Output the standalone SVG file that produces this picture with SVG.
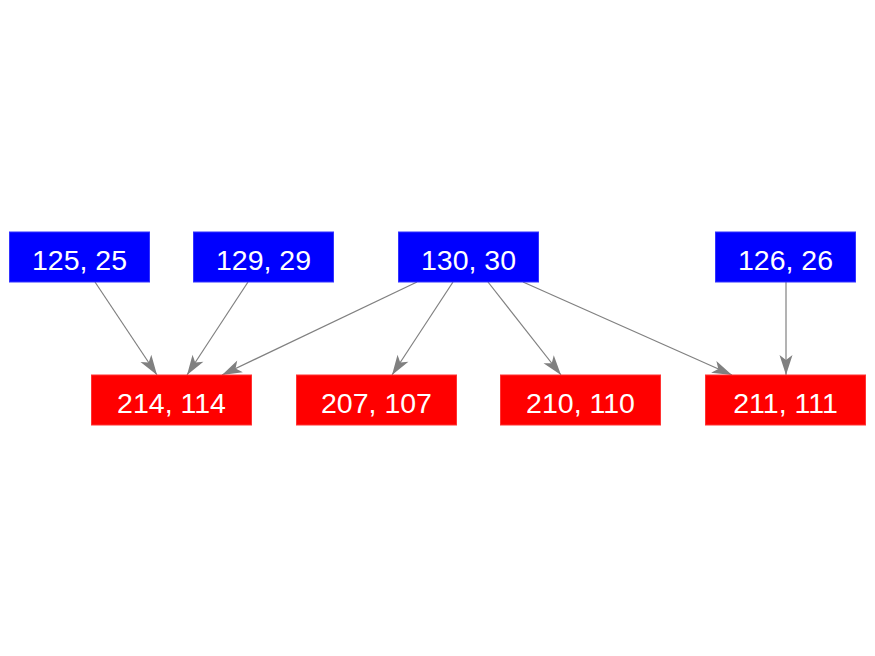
<svg xmlns="http://www.w3.org/2000/svg" width="875" height="656" viewBox="0 0 875 656">
<style>
.src rect{fill:#0000ff;stroke:#3333ff;stroke-width:1}
.dst rect{fill:#ff0000;stroke:#ff3333;stroke-width:1}
text{font-family:"Liberation Sans",Arial,sans-serif;font-size:28.5px;fill:#ffffff;text-anchor:middle}
.edges line{stroke:#808080;stroke-width:1.2;marker-end:url(#arr)}
</style>
<defs>
<marker id="arr" markerUnits="userSpaceOnUse" markerWidth="22" markerHeight="16" viewBox="-21 -8 22 16" refX="0" refY="0" orient="auto">
<path d="M0,0 L-20,-6.5 L-15,0 L-20,6.5 Z" fill="#808080"/>
</marker>
</defs>
<rect width="875" height="656" fill="#ffffff"/>
<g class="edges">
<line x1="95" y1="282" x2="157" y2="375"/>
<line x1="248" y1="282" x2="187" y2="375"/>
<line x1="417" y1="282" x2="222" y2="375"/>
<line x1="453" y1="282" x2="392" y2="375"/>
<line x1="488" y1="282" x2="561" y2="375"/>
<line x1="523" y1="282" x2="732" y2="375"/>
<line x1="786" y1="282" x2="786" y2="375"/>
</g>
<g id="n125" class="src"><rect x="9.5" y="232" width="140" height="50"/><text x="79.5" y="269.5">125, 25</text></g>
<g id="n129" class="src"><rect x="193.5" y="232" width="140" height="50"/><text x="263.5" y="269.5">129, 29</text></g>
<g id="n130" class="src"><rect x="398.5" y="232" width="140" height="50"/><text x="468.5" y="269.5">130, 30</text></g>
<g id="n126" class="src"><rect x="715.5" y="232" width="140" height="50"/><text x="785.5" y="269.5">126, 26</text></g>
<g id="n214" class="dst"><rect x="91.5" y="375" width="160" height="50"/><text x="171.5" y="412.5">214, 114</text></g>
<g id="n207" class="dst"><rect x="296.5" y="375" width="160" height="50"/><text x="376.5" y="412.5">207, 107</text></g>
<g id="n210" class="dst"><rect x="500.5" y="375" width="160" height="50"/><text x="580.5" y="412.5">210, 110</text></g>
<g id="n211" class="dst"><rect x="705.5" y="375" width="160" height="50"/><text x="785.5" y="412.5">211, 111</text></g>
</svg>
